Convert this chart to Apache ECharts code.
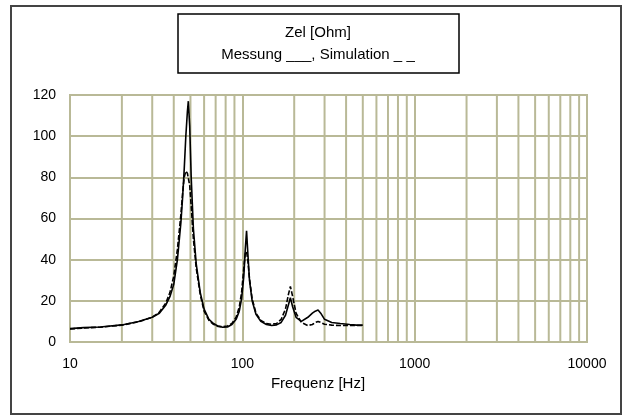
<!DOCTYPE html>
<html>
<head>
    <meta charset="utf-8">
    <script src="https://cdn.jsdelivr.net/npm/echarts@6/dist/echarts.min.js"></script>
    <style>
        html, body { margin: 0; padding: 0; background: #fff; }
        #main { width: 623px; height: 416px; }
    </style>
</head>
<body>
    <div id="main"></div>
    <script>
        // frequency points (Hz), shared by both curves
        var freqs = [10, 12, 15, 20, 25, 30, 33, 36, 38, 40, 42, 44, 45, 46, 47, 48, 48.6, 49.5, 50.5, 52,
            54, 57, 60, 64, 68, 72, 77, 82, 87, 92, 96, 99, 102, 104, 105.8, 107.5, 110, 114, 120, 128,
            138, 148, 158, 168, 178, 185, 190, 196, 205, 220, 240, 255, 265, 275, 285, 300, 330, 370, 420, 460, 500];

        // Messung (solid)
        var messung = [6.5, 7.0, 7.3, 8.3, 10, 12, 14, 18, 22, 28, 40, 58, 70, 84, 100, 112, 117, 105, 80, 55,
            38, 24, 16, 11, 9, 7.8, 7.2, 7.3, 8.5, 11, 15, 21, 32, 45, 54, 44, 30, 20, 13.5, 10,
            8.5, 8, 8.3, 9.5, 13, 18, 21.5, 17, 12, 10, 12, 14, 15, 15.5, 14, 11, 9.5, 9, 8.5, 8.2, 8.2];

        // Simulation (dashed)
        var simulation = [6.3, 6.8, 7.2, 8.2, 9.8, 12, 14.5, 19, 24, 32, 45, 62, 72, 80, 83, 82, 82, 76, 66, 50,
            36, 23, 15, 10.5, 8.6, 7.6, 7.4, 7.8, 9, 12, 17, 24, 36, 43, 44, 40, 31, 21, 14, 10.5,
            9, 8.6, 9, 11, 16, 23, 27, 22, 14, 9.5, 8, 8.5, 9.5, 10, 9.5, 8.6, 8.2, 8, 8, 8, 8];

        var xTicks = [10, 100, 1000, 10000];
        var yTicks = [0, 20, 40, 60, 80, 100, 120];

        // minor grid lines 2..9 of each decade
        var minorFreqs = [];
        for (var d = 10; d < 10000; d *= 10) {
            for (var k = 2; k <= 9; k++) {
                minorFreqs.push(d * k);
            }
        }

        var gridColor = '#b9b997';
        var font = 'Liberation Sans, Arial, sans-serif';

        function pairs(xs, ys) {
            return xs.map(function (x, i) { return [x, ys[i]]; });
        }

        var chart = echarts.init(document.getElementById('main'));

        var option = {
            animation: false,
            backgroundColor: '#fff',
            grid: {
                left: 70,
                top: 95,
                width: 517,
                height: 247,
                show: true,
                borderColor: gridColor,
                borderWidth: 2,
                backgroundColor: 'transparent'
            },
            xAxis: {
                type: 'log',
                logBase: 10,
                min: xTicks[0],
                max: xTicks[xTicks.length - 1],
                axisLine: { show: false },
                axisTick: { show: false },
                splitLine: { show: true, lineStyle: { color: gridColor, width: 2 } },
                axisLabel: {
                    color: '#000',
                    fontFamily: font,
                    fontSize: 14,
                    margin: 15,
                    formatter: function (v) { return String(Math.round(v)); }
                }
            },
            yAxis: {
                type: 'value',
                min: yTicks[0],
                max: yTicks[yTicks.length - 1],
                interval: 20,
                axisLine: { show: false },
                axisTick: { show: false },
                splitLine: { show: true, lineStyle: { color: gridColor, width: 2 } },
                axisLabel: {
                    color: '#000',
                    fontFamily: font,
                    fontSize: 14,
                    margin: 14
                }
            },
            series: [
                {
                    type: 'custom',
                    silent: true,
                    z: 1,
                    data: minorFreqs,
                    renderItem: function (params, api) {
                        var f = api.value(0);
                        var p0 = api.coord([f, yTicks[0]]);
                        var p1 = api.coord([f, yTicks[yTicks.length - 1]]);
                        return {
                            type: 'line',
                            shape: { x1: p0[0], y1: p0[1], x2: p1[0], y2: p1[1] },
                            style: { stroke: gridColor, lineWidth: 2 }
                        };
                    }
                },
                {
                    name: 'Messung',
                    type: 'line',
                    z: 3,
                    data: pairs(freqs, messung),
                    showSymbol: false,
                    lineStyle: { color: '#000', width: 1.6 }
                },
                {
                    name: 'Simulation',
                    type: 'line',
                    z: 3,
                    data: pairs(freqs, simulation),
                    showSymbol: false,
                    lineStyle: { color: '#000', width: 1.6, type: [5, 2] }
                }
            ],
            graphic: [
                {
                    type: 'rect',
                    shape: { x: 11, y: 6, width: 610, height: 408 },
                    style: { fill: 'none', stroke: '#444', lineWidth: 2 },
                    silent: true
                },
                {
                    type: 'rect',
                    shape: { x: 178, y: 14, width: 281, height: 59 },
                    style: { fill: '#fff', stroke: '#000', lineWidth: 1.5 },
                    silent: true
                },
                {
                    type: 'text',
                    x: 318, y: 33,
                    style: {
                        text: 'Zel [Ohm]', fill: '#000', font: '15px ' + font,
                        align: 'center', verticalAlign: 'middle'
                    }
                },
                {
                    type: 'text',
                    x: 318, y: 55,
                    style: {
                        text: 'Messung ___, Simulation _ _', fill: '#000', font: '15px ' + font,
                        align: 'center', verticalAlign: 'middle'
                    }
                },
                {
                    type: 'text',
                    x: 318, y: 384,
                    style: {
                        text: 'Frequenz [Hz]', fill: '#000', font: '15px ' + font,
                        align: 'center', verticalAlign: 'middle'
                    }
                }
            ]
        };

        chart.setOption(option);
    </script>
</body>
</html>
